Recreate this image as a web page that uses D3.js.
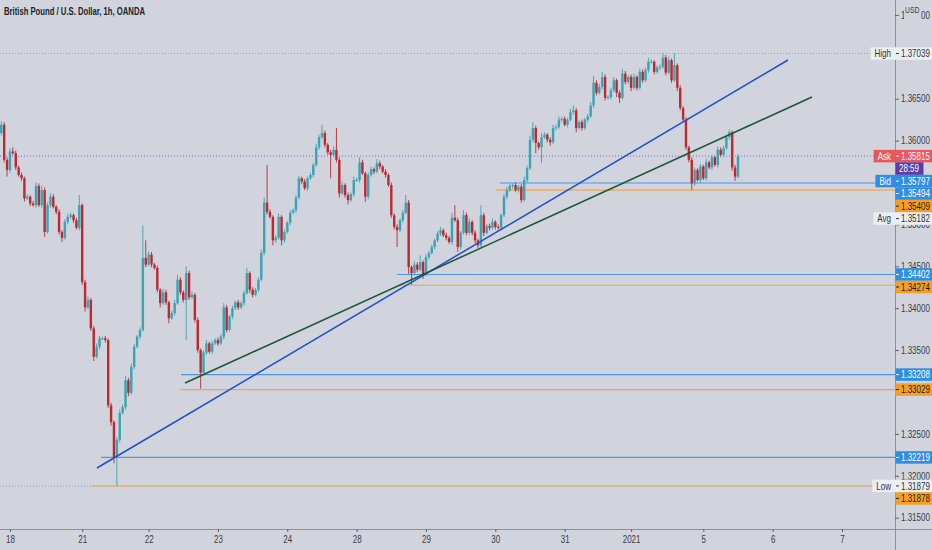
<!DOCTYPE html>
<html>
<head>
<meta charset="utf-8">
<script src="https://cdn.jsdelivr.net/npm/d3@7"></script>
<style>
  body { margin: 0; background: #d1d4dc; }
  svg { display: block; font-family: "Liberation Sans", Arial, sans-serif; }
</style>
</head>
<body>
<svg id="chart" width="932" height="550"></svg>
<script>
// hourly closes, in pips above 1.3000
const closes = [
  619,577,565,587,585,568,559,555,531,533,525,523,546,523,541,491,
  523,533,521,515,491,484,503,509,511,505,496,523,431,401,410,376,
  342,354,364,364,362,284,264,222,243,275,282,314,299,330,354,366,
  374,460,452,464,452,448,422,406,419,407,388,394,406,434,419,410,
  442,413,416,386,350,323,347,358,348,358,362,358,366,401,374,390,
  400,407,401,406,418,442,422,416,422,434,466,526,515,509,481,484,
  509,481,491,502,514,517,532,555,551,543,555,559,571,592,604,609,
  595,586,583,589,577,537,547,535,529,536,553,553,574,561,533,559,
  566,563,573,569,563,559,547,511,497,493,505,514,526,449,442,452,
  446,455,440,461,466,473,481,489,493,487,484,479,508,505,473,490,
  511,490,503,490,481,475,511,490,498,496,503,497,496,511,533,541,
  546,547,541,545,529,553,567,601,615,597,592,604,607,601,598,615,
  616,625,626,619,625,634,636,615,622,615,625,629,642,669,657,664,
  676,651,652,660,672,657,651,680,670,676,663,676,663,682,672,684,
  694,694,682,687,688,699,681,696,672,690,663,639,625,592,577,549,
  565,553,569,555,574,568,580,571,589,583,591,604,610,568,557,581
];
const firstOpen = 609;
// upper / lower wick lengths in pips
const wickUp = [
  4,3,3,4,5,3,2,3,2,3,2,3,4,3,5,3,
  3,4,3,2,3,2,3,4,3,2,3,12,2,3,4,2,
  3,4,3,2,3,2,3,2,3,4,3,5,3,4,3,2,
  3,39,21,4,3,2,3,2,4,3,2,3,4,6,3,2,
  8,3,4,2,3,2,3,4,2,3,2,3,3,5,3,2,
  3,2,3,2,3,6,2,3,2,3,4,6,45,3,2,3,
  4,2,3,2,3,2,3,3,2,3,2,3,2,4,3,10,
  3,2,3,4,26,3,4,2,3,2,4,3,6,3,2,3,
  3,2,5,3,2,3,2,3,2,3,2,3,9,3,2,4,
  3,8,2,3,2,3,2,3,4,2,3,2,6,15,3,2,
  6,3,4,2,3,2,12,3,2,3,4,2,3,2,3,4,
  3,2,3,2,3,4,3,5,7,3,2,5,3,2,3,4,
  3,4,2,3,2,4,6,3,2,3,2,3,4,8,3,4,
  6,3,2,3,4,2,3,5,3,2,3,4,2,4,3,3,
  5,3,2,3,3,5,3,4,2,14,2,3,2,3,2,3,
  3,2,3,2,4,2,3,2,4,3,3,3,3,2,3,3
];
const wickDn = [
  3,3,8,3,2,3,2,3,4,2,3,2,3,2,3,6,
  2,3,2,3,3,5,2,3,2,3,2,3,3,5,2,3,
  5,2,3,2,3,3,4,7,34,3,2,3,4,2,3,2,
  3,2,3,2,3,2,3,5,2,3,6,2,3,2,3,3,
  48,3,2,3,3,19,2,3,2,3,2,3,2,3,3,2,
  3,2,3,2,3,2,4,3,2,3,2,3,3,2,6,3,
  2,6,3,2,3,2,3,2,3,2,3,2,3,2,3,2,
  3,3,28,2,3,5,2,3,5,2,3,2,3,2,6,3,
  2,3,2,3,2,3,2,3,3,20,2,3,2,8,14,3,
  3,2,5,2,3,2,3,2,3,2,3,2,3,2,6,3,
  2,3,2,3,4,3,2,4,2,3,2,3,2,3,2,3,
  2,3,2,3,3,2,3,2,3,12,3,19,2,3,4,2,
  3,2,3,2,3,2,3,5,2,3,2,3,2,3,3,2,
  3,3,2,3,2,5,6,2,3,2,4,2,3,2,3,2,
  3,2,3,2,3,2,3,2,3,2,4,3,3,3,3,8,
  3,2,3,2,3,2,3,2,3,2,3,2,3,4,5,2
];

const dayIdx = [3, 28, 51, 75, 99, 123, 147, 171, 195, 218, 243, 267, 291];
const dayLabels = ["18", "21", "22", "23", "24", "28", "29", "30", "31", "2021", "5", "6", "7"];
// scale labels that show (others are hidden behind the price tags)
const priceTicks = [1.375, 1.365, 1.360, 1.350, 1.345, 1.340, 1.335, 1.325, 1.320, 1.315];

const bluePrices = [1.35494, 1.34402, 1.33208, 1.32219];
const blueStart = [172.5, 137, 62.2, 34.5];
const orangePrices = [1.35409, 1.34274, 1.33029, 1.31878];
const orangeStart = [171.2, 137.3, 61.9, 31.4];

const trendBlue = [[33.1, 1.32093], [272.3, 1.36962]];
const trendGreen = [[63.6, 1.33107], [280.6, 1.36520]];

const highPrice = 1.37039, lowPrice = 1.31879;
const askPrice = 1.35815, bidPrice = 1.35797, avgPrice = 1.35182;
const timerText = "28:59";
const title = "British Pound / U.S. Dollar, 1h, OANDA";

const upCol = "#38a4b4", downCol = "#bd2930";
const blueCol = "#2e8ee3", orangeCol = "#f5a023", lightCol = "#eceef2", darkText = "#2f323b";
const axisX = 895, axisY = 529;
const squeezeK = 0.8;

const svg = d3.select("#chart");
const x = d3.scaleLinear().domain([0, 291]).range([1.3, 842]);
const y = d3.scaleLinear().domain([1.315, 1.365]).range([517.7, 98.7]);

// the original uses a narrow face: squeeze text horizontally
function squeeze(sel, k) {
  sel.each(function() {
    const t = d3.select(this);
    const x0 = +(t.attr("x") || 0);
    t.attr("x", x0 / k).attr("transform", "scale(" + k + ",1)");
  });
}

// axis frame
svg.append("line").attr("x1", 0).attr("x2", 932).attr("y1", axisY + 0.5).attr("y2", axisY + 0.5)
  .attr("stroke", "#8d9099");
svg.append("line").attr("x1", axisX + 0.5).attr("x2", axisX + 0.5).attr("y1", 0).attr("y2", 550)
  .attr("stroke", "#8d9099");

// price axis
const yAxis = svg.append("g").attr("transform", "translate(" + axisX + ",0)")
  .call(d3.axisRight(y).tickValues(priceTicks).tickFormat(d3.format(".5f")).tickSize(4).tickPadding(2));
yAxis.select(".domain").remove();
yAxis.selectAll("line").attr("stroke", "#5d6069");
yAxis.selectAll("text").attr("fill", "#3a3d46").attr("font-size", "10px").call(squeeze, squeezeK);

// USD badge over the top tick
svg.append("rect").attr("x", 904).attr("y", 2).attr("width", 17).attr("height", 18).attr("fill", "#d1d4dc");
svg.append("text").attr("x", 905).attr("y", 13).attr("font-size", "8.5px").attr("fill", "#3a3d46").text("USD")
  .call(squeeze, squeezeK);

// time axis
const xAxis = svg.append("g").attr("transform", "translate(0," + axisY + ")")
  .call(d3.axisBottom(x).tickValues(dayIdx).tickFormat((d, i) => dayLabels[i]).tickSize(3).tickPadding(4));
xAxis.select(".domain").remove();
xAxis.selectAll("line").attr("stroke", "#5d6069");
xAxis.selectAll("text").attr("fill", "#3a3d46").attr("font-size", "10px").call(squeeze, squeezeK);

// dotted price lines
[[highPrice, "#9a9ca5"], [lowPrice, "#9a9ca5"], [askPrice, "#8a80cc"]].forEach(([p, c]) => {
  svg.append("line").attr("x1", 0).attr("x2", axisX).attr("y1", y(p)).attr("y2", y(p))
    .attr("stroke", c).attr("stroke-width", 1.1).attr("stroke-dasharray", "1,2");
});

// horizontal levels
bluePrices.forEach((p, k) => {
  svg.append("line").attr("x1", x(blueStart[k])).attr("x2", axisX).attr("y1", y(p)).attr("y2", y(p))
    .attr("stroke", "#4f97e4").attr("stroke-width", 1.2);
});
orangePrices.forEach((p, k) => {
  svg.append("line").attr("x1", x(orangeStart[k])).attr("x2", axisX).attr("y1", y(p)).attr("y2", y(p))
    .attr("stroke", "#f0a552").attr("stroke-width", 1.2);
});

// candles
const candles = closes.map((c, i) => {
  const o = i === 0 ? firstOpen : closes[i - 1];
  return {
    i: i, up: c >= o,
    o: 1.3 + o / 1e4, c: 1.3 + c / 1e4,
    h: 1.3 + (Math.max(o, c) + wickUp[i]) / 1e4,
    l: 1.3 + (Math.min(o, c) - wickDn[i]) / 1e4
  };
});

const cg = svg.append("g");
cg.selectAll("line.wick")
  .data(candles)
  .enter()
  .append("line")
  .attr("class", "wick")
  .attr("x1", d => x(d.i)).attr("x2", d => x(d.i))
  .attr("y1", d => y(d.h)).attr("y2", d => y(d.l))
  .attr("stroke", d => d.up ? upCol : downCol)
  .attr("stroke-width", 0.9);
cg.selectAll("rect.body")
  .data(candles)
  .enter()
  .append("rect")
  .attr("class", "body")
  .attr("x", d => x(d.i) - 1.2)
  .attr("width", 2.4)
  .attr("y", d => y(Math.max(d.o, d.c)))
  .attr("height", d => Math.max(1, Math.abs(y(d.o) - y(d.c))))
  .attr("fill", d => d.up ? upCol : downCol);

// trend lines
[[trendBlue, "#1f4fcf"], [trendGreen, "#1b563a"]].forEach(([pts, c]) => {
  svg.append("path")
    .attr("d", d3.line().x(d => x(d[0])).y(d => y(d[1]))(pts))
    .attr("stroke", c).attr("stroke-width", 1.5).attr("fill", "none");
});

// price tags on the right scale
const tags = [
  { name: "High", v: highPrice, bg: lightCol, fg: darkText },
  { name: "Ask", v: askPrice, bg: "#e9565c", fg: "#ffffff" },
  { text: timerText, v: askPrice, bg: "#5b3ba8", fg: "#ffffff", timer: true },
  { name: "Bid", v: bidPrice, bg: blueCol, fg: "#ffffff" },
  { v: bluePrices[0], bg: blueCol, fg: "#ffffff" },
  { v: orangePrices[0], bg: orangeCol, fg: "#1e2029" },
  { name: "Avg", v: avgPrice, bg: lightCol, fg: darkText },
  { v: bluePrices[1], bg: blueCol, fg: "#ffffff" },
  { v: orangePrices[1], bg: orangeCol, fg: "#1e2029" },
  { v: bluePrices[2], bg: blueCol, fg: "#ffffff" },
  { v: orangePrices[2], bg: orangeCol, fg: "#1e2029" },
  { v: bluePrices[3], bg: blueCol, fg: "#ffffff" },
  { name: "Low", v: lowPrice, bg: lightCol, fg: darkText },
  { v: orangePrices[3], bg: orangeCol, fg: "#1e2029" }
];
const tagH = 12.5;
let last = -Infinity;
tags.forEach(t => {
  let yy = t.timer ? last + tagH : y(t.v);
  yy = Math.max(yy, last + tagH);
  t.y = yy;
  last = yy;
});

const tg = svg.append("g");
tags.forEach(t => {
  const g = tg.append("g").attr("transform", "translate(0," + t.y + ")");
  const w = t.timer ? 28 : 37;
  g.append("rect").attr("x", axisX + 0.5).attr("y", -tagH / 2).attr("width", w).attr("height", tagH).attr("fill", t.bg);
  if (t.name) {
    const nt = g.append("text").attr("y", 3.6).attr("font-size", "10px").attr("fill", t.fg).text(t.name);
    const nw = nt.node().getComputedTextLength() * squeezeK;
    const left = axisX - nw - 8;
    g.insert("rect", "text").attr("x", left).attr("y", -tagH / 2).attr("width", axisX + 1 - left).attr("height", tagH).attr("fill", t.bg);
    nt.attr("x", left + 4).call(squeeze, squeezeK);
  }
  if (!t.timer) {
    g.append("line").attr("x1", axisX + 1).attr("x2", axisX + 4).attr("y1", 0).attr("y2", 0).attr("stroke", t.fg);
  }
  g.append("text").attr("x", t.timer ? axisX + 4 : axisX + 6).attr("y", 3.6)
    .attr("font-size", "10px").attr("fill", t.fg)
    .text(t.timer ? t.text : d3.format(".5f")(t.v))
    .call(squeeze, squeezeK);
});

// title
svg.append("text").attr("x", 4).attr("y", 15.5).attr("font-size", "11px").attr("font-weight", "bold")
  .attr("fill", "#20232c").text(title).call(squeeze, 0.7);
</script>
</body>
</html>
